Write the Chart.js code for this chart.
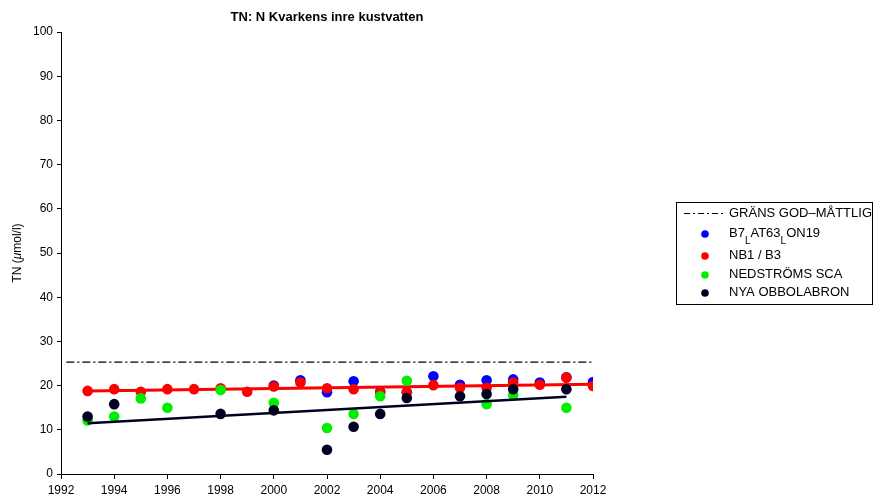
<!DOCTYPE html>
<html>
<head>
<meta charset="utf-8">
<script src="https://cdn.jsdelivr.net/npm/chart.js@4/dist/chart.umd.min.js"></script>
<style>
  html, body { margin: 0; padding: 0; background: #fff; }
  #wrap { width: 875px; height: 502px; }
</style>
</head>
<body>
<div id="wrap"><canvas id="tnChart" width="875" height="502"></canvas></div>
<script>
// Data
const jarenBlauw = [2000, 2001, 2002, 2003, 2004, 2005, 2006, 2007, 2008, 2009, 2010, 2011, 2012];
const blauw = [20.0, 21.2, 18.5, 21.0, 18.6, 18.5, 22.1, 20.2, 21.2, 21.4, 20.7, 21.9, 20.8];

const jarenRood = [1993, 1994, 1995, 1996, 1997, 1998, 1999, 2000, 2001, 2002, 2003, 2004, 2005, 2006, 2007, 2008, 2009, 2010, 2011, 2012];
const rood = [18.8, 19.2, 18.6, 19.2, 19.2, 19.4, 18.6, 19.8, 20.7, 19.4, 19.2, 18.4, 18.5, 20.1, 19.5, 19.5, 20.7, 20.2, 21.8, 19.9];

const jarenGroen = [1993, 1994, 1995, 1996, 1998, 2000, 2002, 2003, 2004, 2005, 2008, 2009, 2011];
const groen = [12.1, 13.0, 17.1, 15.0, 19.0, 16.1, 10.4, 13.6, 17.6, 21.1, 15.8, 17.9, 15.0];

const jarenZwart = [1993, 1994, 1998, 2000, 2002, 2003, 2004, 2005, 2007, 2008, 2009, 2011];
const zwart = [13.0, 15.8, 13.6, 14.4, 5.5, 10.7, 13.6, 17.2, 17.6, 18.1, 19.2, 19.2];

// trendlijnen (begin- en eindpunt)
const trendRoodX = [1993, 2012];
const trendRood = [18.8, 20.3];
const trendZwartX = [1993, 2011];
const trendZwart = [11.5, 17.5];

const grensX = [1992.2, 2012];
const grens = [25.3, 25.3];

const xTicks = [1992, 1994, 1996, 1998, 2000, 2002, 2004, 2006, 2008, 2010, 2012];
const yTicks = [0, 10, 20, 30, 40, 50, 60, 70, 80, 90, 100];

const legendItems = [
  { type: "line", text: ["GRÄNS GOD\u2013MÅTTLIG"] },
  { type: "dot", color: "#0000ff", text: ["B7", "L", "AT63", "L", "ON19"] },
  { type: "dot", color: "#ff0000", text: ["NB1 / B3"] },
  { type: "dot", color: "#00ee00", text: ["NEDSTRÖMS SCA"] },
  { type: "dot", color: "#000022", text: ["NYA OBBOLABRON"] },
];

const FONT = "'Liberation Sans', Arial, Helvetica, sans-serif";
const zip = (xs, ys) => xs.map((x, i) => ({ x, y: ys[i] }));

function puntenSet(label, xs, ys, kleur, order) {
  return {
    type: "scatter",
    label,
    data: zip(xs, ys),
    backgroundColor: kleur,
    borderColor: kleur,
    pointRadius: 5.3,
    pointBorderWidth: 0,
    order,
  };
}

function lijnSet(label, xs, ys, kleur, breedte, dash, order) {
  return {
    type: "line",
    label,
    data: zip(xs, ys),
    borderColor: kleur,
    borderWidth: breedte,
    borderDash: dash,
    pointRadius: 0,
    fill: false,
    tension: 0,
    order,
  };
}

// Titel, y-as label en legenda zelf tekenen
const extraTekst = {
  id: "extraTekst",
  afterDraw(chart) {
    const ctx = chart.ctx;
    ctx.save();
    ctx.fillStyle = "#000";

    // titel
    ctx.font = "bold 13px " + FONT;
    ctx.textAlign = "center";
    ctx.textBaseline = "middle";
    ctx.fillText("TN: N Kvarkens inre kustvatten", 327, 17);

    // y-as titel met cursieve mu
    ctx.translate(18, 253);
    ctx.rotate(-Math.PI / 2);
    ctx.textAlign = "left";
    const delen = [["TN (", "12px "], ["\u03bc", "italic 12px "], ["mol/l)", "12px "]];
    let totaal = 0;
    delen.forEach(([t, f]) => { ctx.font = f + FONT; totaal += ctx.measureText(t).width; });
    let x = -totaal / 2;
    delen.forEach(([t, f]) => {
      ctx.font = f + FONT;
      ctx.fillText(t, x, 0);
      x += ctx.measureText(t).width;
    });
    ctx.restore();

    // legenda
    ctx.save();
    ctx.strokeStyle = "#000";
    ctx.lineWidth = 1;
    ctx.strokeRect(676.5, 202.5, 196, 102);
    const rijen = [213, 233, 255, 274, 292];
    legendItems.forEach((item, i) => {
      const y = rijen[i];
      if (item.type === "line") {
        ctx.setLineDash([6, 3, 2, 3]);
        ctx.beginPath();
        ctx.moveTo(684, y + 0.5);
        ctx.lineTo(726, y + 0.5);
        ctx.stroke();
        ctx.setLineDash([]);
      } else {
        ctx.fillStyle = item.color;
        ctx.beginPath();
        ctx.arc(705, y + 1, 3.8, 0, Math.PI * 2);
        ctx.fill();
      }
      ctx.fillStyle = "#000";
      ctx.textBaseline = "middle";
      ctx.textAlign = "left";
      let tx = 729;
      item.text.forEach((t, j) => {
        const sub = item.text.length > 1 && j % 2 === 1;
        ctx.font = (sub ? "10px " : "13px ") + FONT;
        ctx.fillText(t, tx, sub ? y + 8 : y);
        tx += ctx.measureText(t).width;
      });
    });
    ctx.restore();
  },
};

const ctx = document.getElementById("tnChart").getContext("2d");
new Chart(ctx, {
  data: {
    datasets: [
      lijnSet("GRÄNS GOD-MÅTTLIG", grensX, grens, "#000", 1.3, [8, 3, 2, 3], 10),
      puntenSet("B7 AT63 ON19", jarenBlauw, blauw, "#0000ff", 9),
      puntenSet("NB1 / B3", jarenRood, rood, "#ff0000", 8),
      lijnSet("trend NB1 / B3", trendRoodX, trendRood, "#ff0000", 3, [], 7),
      puntenSet("NEDSTRÖMS SCA", jarenGroen, groen, "#00ee00", 6),
      lijnSet("trend NYA OBBOLABRON", trendZwartX, trendZwart, "#000022", 2.5, [], 5),
      puntenSet("NYA OBBOLABRON", jarenZwart, zwart, "#000022", 4),
    ],
  },
  options: {
    responsive: false,
    animation: false,
    layout: { padding: { top: 32, right: 282, left: 0, bottom: 0 } },
    plugins: {
      legend: { display: false },
      tooltip: { enabled: false },
      title: { display: false },
    },
    scales: {
      x: {
        type: "linear",
        min: 1992,
        max: 2012,
        afterBuildTicks: (s) => { s.ticks = xTicks.map((v) => ({ value: v })); },
        afterFit: (s) => { s.height = 28; },
        ticks: {
          color: "#000",
          font: { size: 12, family: FONT },
          padding: 4,
          maxRotation: 0,
          autoSkip: false,
          callback: (v) => String(v),
        },
        grid: { drawOnChartArea: false, drawTicks: true, tickLength: 5, color: "#000" },
        border: { color: "#000", width: 1 },
      },
      y: {
        type: "linear",
        min: 0,
        max: 100,
        afterBuildTicks: (s) => { s.ticks = yTicks.map((v) => ({ value: v })); },
        afterFit: (s) => { s.width = 61; },
        ticks: {
          color: "#000",
          font: { size: 12, family: FONT },
          padding: 4,
          autoSkip: false,
        },
        grid: { drawOnChartArea: false, drawTicks: true, tickLength: 4, color: "#000" },
        border: { color: "#000", width: 1 },
      },
    },
  },
  plugins: [extraTekst],
});
</script>
</body>
</html>
